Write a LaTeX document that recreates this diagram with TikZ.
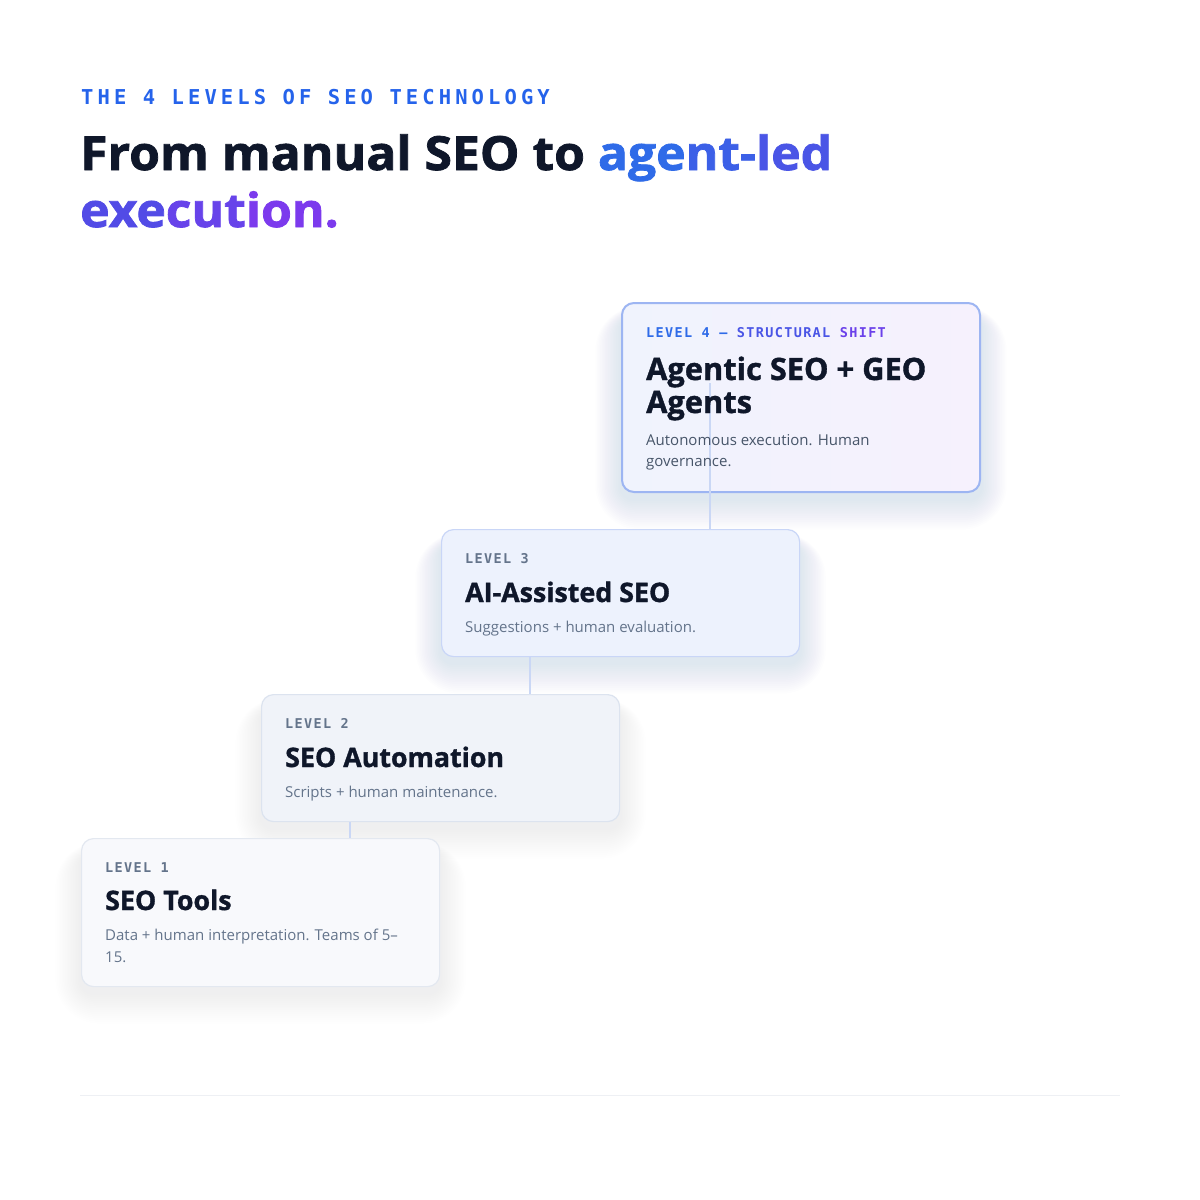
\documentclass[tikz,border=0pt]{standalone}
\usepackage{fontspec}
\usetikzlibrary{backgrounds}
\setmainfont{Open Sans}
\newfontfamily\heavyfont{Open Sans}[BoldFeatures={FakeBold=1.2}]
\newfontfamily\headfont{Open Sans}[BoldFeatures={FakeBold=1.6, FakeStretch=1.06}]
\newfontfamily\kickermono{DejaVu Sans Mono}[LetterSpace=20]
\newfontfamily\cardmono{DejaVu Sans Mono}[LetterSpace=10]

\definecolor{ink}{HTML}{0F172A}
\definecolor{slate}{HTML}{64748B}
\definecolor{slatedark}{HTML}{475569}
\definecolor{kicker}{HTML}{2563EB}
\definecolor{gradA}{HTML}{2F6BE8}
\definecolor{gradB}{HTML}{4A55E6}
\definecolor{gradC}{HTML}{524BE6}
\definecolor{gradD}{HTML}{7C3AED}
\definecolor{edgefour}{HTML}{9DB5F2}
\definecolor{fillfourA}{HTML}{F0F3FD}
\definecolor{fillfourB}{HTML}{F6F1FD}
\definecolor{edgethree}{HTML}{C9D6F7}
\definecolor{fillthree}{HTML}{EDF2FD}
\definecolor{edgetwo}{HTML}{DCE3EF}
\definecolor{filltwo}{HTML}{F0F3F9}
\definecolor{edgeone}{HTML}{E3E8F0}
\definecolor{fillone}{HTML}{F8F9FC}
\definecolor{linkblue}{HTML}{CAD7F5}
\definecolor{rulegray}{HTML}{EEF0F4}
\definecolor{glowblue}{HTML}{5A72F0}

% soft shadow under a card
\newcommand\cardglow[2]{%
  \foreach \i [evaluate=\i as \rr using 12+2*\i] in {1,...,16}
    \fill[glowblue, opacity=#2, rounded corners=\rr pt]
      ([shift={(-1.6*\i,14-0.6*\i)}]#1.north west) rectangle ([shift={(1.6*\i,6+1.9*\i)}]#1.south east);}

\begin{document}
\begin{tikzpicture}[x=1pt, y=-1pt,
    card/.style={rectangle, rounded corners=12pt, minimum width=358pt, inner sep=0pt, anchor=north west},
    cardfour/.style={card, minimum height=189pt, draw=edgefour, line width=2pt, left color=fillfourA, right color=fillfourB},
    cardthree/.style={card, minimum height=127pt, draw=edgethree, line width=1.2pt, fill=fillthree},
    cardtwo/.style={card, minimum height=127pt, draw=edgetwo, line width=1.2pt, fill=filltwo},
    cardone/.style={card, minimum height=148pt, draw=edgeone, line width=1.2pt, fill=fillone},
    lvl/.style={anchor=base west, inner sep=0pt, font=\cardmono\bfseries\fontsize{13.5}{16}\selectfont, text=slate},
    ttl/.style={anchor=base west, inner sep=0pt, font=\heavyfont\bfseries\fontsize{26.8}{33}\selectfont, text=ink},
    dsc/.style={anchor=base west, inner sep=0pt, font=\fontsize{15}{21}\selectfont, text=slate},
    link/.style={draw=linkblue, line width=1.5pt}
  ]
  \useasboundingbox (0,0) rectangle (1200,1200);

  % Header
  \node[anchor=base west, inner sep=0pt, text=kicker, font=\kickermono\bfseries\fontsize{20.5}{24}\selectfont] (kicker) at (81,104) {THE 4 LEVELS OF SEO TECHNOLOGY};
  \node[anchor=base west, inner sep=0pt, text=ink, font=\headfont\bfseries\fontsize{47}{57}\selectfont] (headA) at (80,170)
    {From manual SEO to \textcolor{gradA}{age}\textcolor{gradA!50!gradB}{nt-}\textcolor{gradB}{led}};
  \node[anchor=base west, inner sep=0pt, font=\headfont\bfseries\fontsize{47}{57}\selectfont] (headB) at (80,227)
    {\textcolor{gradC}{exe}\textcolor{gradC!50!gradD}{cut}\textcolor{gradD}{ion.}};

  % Cards
  \node[cardfour] (l4) at (621,302) {};
  \node[cardthree] (l3) at (441,529) {};
  \node[cardtwo] (l2) at (261,694) {};
  \node[cardone] (l1) at (81,838) {};

  % Page and shadows
  \begin{scope}[on background layer]
    \fill[white] (0,0) rectangle (1200,1200);
    \cardglow{l4}{0.009}
    \cardglow{l3}{0.006}
    \cardglow{l2}{0.005}
    \cardglow{l1}{0.005}
  \end{scope}

  % Connectors
  \coordinate (t4) at (710,383);
  \coordinate (s3) at ([xshift=89pt]l3.south west);
  \coordinate (s2) at ([xshift=89pt]l2.south west);
  \draw[link] (t4) -- (t4 |- l3.north);
  \draw[link] (s3) -- (s3 |- l2.north);
  \draw[link] (s2) -- (s2 |- l1.north);

  % Level 4
  \node[lvl] (l4lvl) at ([shift={(25,35)}]l4.north west)
    {\textcolor{gradA}{LEVEL 4 — }\textcolor{gradB}{STRUCTURAL }\textcolor{gradC!40!gradD}{SHIFT}};
  \node[ttl, font=\heavyfont\bfseries\fontsize{30.8}{33}\selectfont] (l4ttlA) at ([shift={(25,78)}]l4.north west) {Agentic SEO + GEO};
  \node[ttl, font=\heavyfont\bfseries\fontsize{30.8}{33}\selectfont] (l4ttlB) at ([shift={(25,111)}]l4.north west) {Agents};
  \node[dsc, text=slatedark] (l4dscA) at ([shift={(25,143)}]l4.north west) {Autonomous execution. Human};
  \node[dsc, text=slatedark] (l4dscB) at ([shift={(25,164)}]l4.north west) {governance.};

  % Level 3
  \node[lvl] (l3lvl) at ([shift={(24,34)}]l3.north west) {LEVEL 3};
  \node[ttl] (l3ttl) at ([shift={(24,73)}]l3.north west) {AI-Assisted SEO};
  \node[dsc] (l3dsc) at ([shift={(24,103)}]l3.north west) {Suggestions + human evaluation.};

  % Level 2
  \node[lvl] (l2lvl) at ([shift={(24,34)}]l2.north west) {LEVEL 2};
  \node[ttl] (l2ttl) at ([shift={(24,73)}]l2.north west) {SEO Automation};
  \node[dsc] (l2dsc) at ([shift={(24,103)}]l2.north west) {Scripts + human maintenance.};

  % Level 1
  \node[lvl] (l1lvl) at ([shift={(24,34)}]l1.north west) {LEVEL 1};
  \node[ttl] (l1ttl) at ([shift={(24,72)}]l1.north west) {SEO Tools};
  \node[dsc] (l1dscA) at ([shift={(24,102)}]l1.north west) {Data + human interpretation. Teams of 5–};
  \node[dsc] (l1dscB) at ([shift={(24,124)}]l1.north west) {15.};

  % Footer rule
  \coordinate (ruleL) at (80,1095);
  \coordinate (ruleR) at (1120,1095);
  \draw[rulegray, line width=1pt] (ruleL) -- (ruleR);
\end{tikzpicture}
\end{document}
